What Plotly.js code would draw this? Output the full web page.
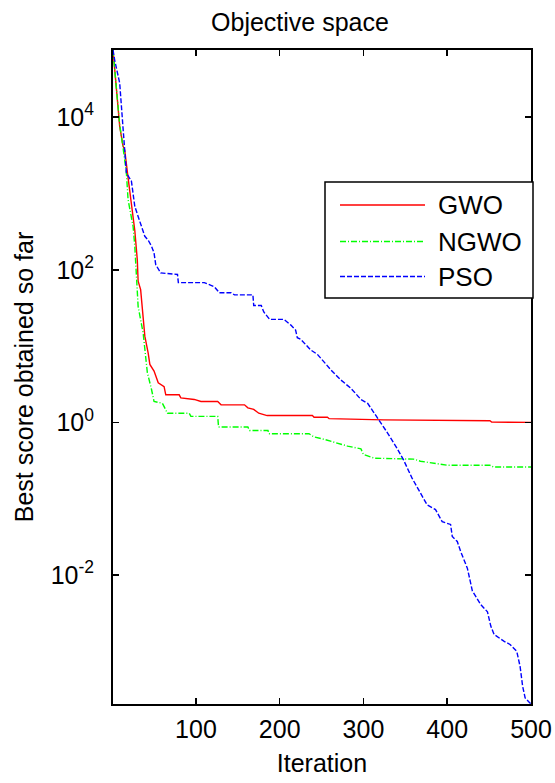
<!DOCTYPE html>
<html>
<head>
<meta charset="utf-8">
<script src="https://cdn.plot.ly/plotly-3.0.1.min.js"></script>
<style>html,body{margin:0;padding:0;background:#fff;}#chart{width:555px;height:783px;}</style>
</head>
<body>
<div id="chart"></div>
<script>
// ---- data ----
const seriesNames = ["GWO", "NGWO", "PSO"];

const gwoIter = [1, 5, 9, 13, 15, 19, 23, 27, 30, 31, 34, 37, 39, 43, 45, 50, 55, 62, 64, 80, 82, 98, 106, 126, 130, 158, 162, 169, 175, 185, 239, 241, 257, 259, 324, 451, 453, 500];
const gwoScore = [7.6e4, 2.2e4, 7600, 4200, 3700, 1600, 760, 330, 135, 71, 55, 24.5, 13.5, 8.1, 5.75, 4.7, 3.3, 2.95, 2.3, 2.3, 2.1, 2.0, 1.88, 1.88, 1.7, 1.7, 1.55, 1.48, 1.32, 1.23, 1.23, 1.17, 1.17, 1.12, 1.08, 1.05, 1.01, 1.0];

const ngwoIter = [1, 5, 9, 13, 17, 19, 25, 27, 29, 31, 37, 39, 42, 47, 50, 60, 66, 92, 94, 126, 127, 162, 164, 186, 187, 235, 241, 253, 265, 281, 297, 300, 313, 360, 368, 400, 451, 455, 500];
const ngwoScore = [7.6e4, 2.2e4, 7900, 4000, 1860, 830, 370, 205, 81, 33, 14.8, 8.9, 4.5, 2.7, 1.88, 1.78, 1.32, 1.32, 1.2, 1.2, 0.87, 0.87, 0.785, 0.785, 0.71, 0.71, 0.645, 0.6, 0.55, 0.49, 0.45, 0.38, 0.34, 0.33, 0.31, 0.275, 0.275, 0.26, 0.26];

const psoIter = [1, 3, 9, 11, 15, 17, 23, 27, 31, 35, 39, 43, 47, 50, 52, 58, 78, 79, 110, 122, 128, 142, 146, 168, 169, 178, 181, 188, 205, 213, 219, 221, 225, 237, 245, 261, 273, 285, 297, 305, 317, 329, 340, 348, 358, 368, 376, 386, 394, 404, 406, 412, 416, 424, 430, 440, 448, 452, 456, 468, 475, 483, 487, 490, 493, 497, 500];
const psoScore = [7.6e4, 5.6e4, 2.8e4, 1.38e4, 3700, 1860, 1450, 680, 500, 370, 275, 245, 204, 166, 117, 91, 87, 68, 68, 60, 50, 50, 47, 47, 34, 34, 28, 22.4, 22.4, 19, 16.2, 12.9, 12.3, 8.9, 7.8, 4.9, 3.6, 2.8, 2.0, 1.78, 1.15, 0.72, 0.46, 0.32, 0.186, 0.117, 0.083, 0.072, 0.050, 0.046, 0.032, 0.0275, 0.0204, 0.0123, 0.0062, 0.0041, 0.0033, 0.00214, 0.00166, 0.00135, 0.00123, 0.001, 0.00063, 0.00035, 0.000245, 0.00022, 0.000204];

const xTickVals = [100, 200, 300, 400, 500];
const yTickVals = [1e-2, 1, 1e2, 1e4];
const yTickText = ["10<sup>-2</sup>", "10<sup>0</sup>", "10<sup>2</sup>", "10<sup>4</sup>"];

// ---- styling / layout ----
const W = 555, H = 783;
const M = {l: 113, r: 24, t: 50, b: 79};
const PW = W - M.l - M.r, PH = H - M.t - M.b;
const px = x => (x - M.l) / PW;          // page px -> paper x
const py = y => (H - M.b - y) / PH;      // page px -> paper y
const FONT = "Liberation Sans, Arial, Helvetica, sans-serif";

const colors = ["#ff0000", "#00ff00", "#0000ff"];
const dashes = ["solid", "6px,2px,1px,2px", "5px,2px"];

const allScores = gwoScore.concat(ngwoScore, psoScore);
const yMin = Math.log10(Math.min(...allScores));
const yMax = Math.log10(Math.max(...allScores));
const xAll = gwoIter.concat(ngwoIter, psoIter);

const traces = [
  {x: gwoIter, y: gwoScore},
  {x: ngwoIter, y: ngwoScore},
  {x: psoIter, y: psoScore}
].map((t, i) => ({
  x: t.x, y: t.y, name: seriesNames[i], type: "scatter", mode: "lines",
  line: {color: colors[i], width: 1.4, dash: dashes[i]}, showlegend: false
}));

// custom legend box (MATLAB style)
const shapes = [{
  type: "rect", xref: "paper", yref: "paper",
  x0: px(325), x1: px(533), y0: py(298), y1: py(182),
  line: {color: "#000", width: 1.5}, fillcolor: "#fff", layer: "above"
}];
const annotations = [];
const rowY = [205, 241.5, 276.5];
seriesNames.forEach((n, i) => {
  shapes.push({
    type: "line", xref: "paper", yref: "paper",
    x0: px(340), x1: px(425), y0: py(rowY[i]), y1: py(rowY[i]),
    line: {color: colors[i], width: 1.4, dash: dashes[i]}, layer: "above"
  });
  annotations.push({
    xref: "paper", yref: "paper", x: px(436), y: py(rowY[i]),
    xanchor: "left", yanchor: "middle", text: n, showarrow: false,
    font: {family: FONT, size: 26, color: "#000"}
  });
});

const axisCommon = {
  showgrid: false, zeroline: false, showline: true, linecolor: "#000", linewidth: 2,
  mirror: "ticks", ticks: "inside", ticklen: 6, tickwidth: 1.5, tickcolor: "#000",
  tickfont: {family: FONT, size: 25, color: "#000"}
};

const layout = {
  width: W, height: H, margin: M,
  paper_bgcolor: "#fff", plot_bgcolor: "#fff",
  font: {family: FONT, color: "#000"},
  title: {
    text: "Objective space", font: {family: FONT, size: 25, color: "#000"},
    xref: "paper", x: px(300), xanchor: "center",
    yref: "container", y: 1 - 22 / H, yanchor: "middle"
  },
  xaxis: Object.assign({}, axisCommon, {
    range: [Math.min(...xAll), Math.max(...xAll)],
    tickvals: xTickVals, ticklabelstandoff: 2,
    title: {text: "Iteration", font: {family: FONT, size: 25, color: "#000"}, standoff: 12}
  }),
  yaxis: Object.assign({}, axisCommon, {
    type: "log", range: [yMin, yMax],
    tickvals: yTickVals, ticktext: yTickText, ticklabelstandoff: 12,
    title: {text: "Best score obtained so far", font: {family: FONT, size: 25, color: "#000"}, standoff: 10}
  }),
  shapes: shapes, annotations: annotations
};

Plotly.newPlot("chart", traces, layout, {staticPlot: true, displayModeBar: false});
</script>
</body>
</html>
